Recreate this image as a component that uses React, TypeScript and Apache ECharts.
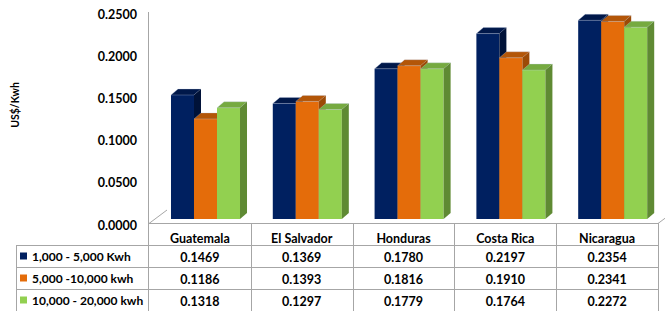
import React, { useEffect, useRef } from "react";
import * as echarts from "echarts";

const categories = ["Guatemala", "El Salvador", "Honduras", "Costa Rica", "Nicaragua"];
const seriesNames = ["1,000 - 5,000 Kwh", "5,000 -10,000 kwh", "10,000 - 20,000 kwh"];
const tier1 = [0.1469, 0.1369, 0.178, 0.2197, 0.2354];
const tier2 = [0.1186, 0.1393, 0.1816, 0.191, 0.2341];
const tier3 = [0.1318, 0.1297, 0.1779, 0.1764, 0.2272];
const seriesValues = [tier1, tier2, tier3];
const yMax = 0.25;
const yStep = 0.05;
const yTitle = "US$/Kwh";

const palette = [
  { front: "#002060", top: "#00184a", side: "#001238" },
  { front: "#e46c0a", top: "#b35608", side: "#9c4a06" },
  { front: "#92d050", top: "#76aa40", side: "#5f8a33" },
];

const FONT = "Lato, 'Liberation Sans', Arial, sans-serif";
const FS = 12.5;
const PLOT_L = 149;
const PLOT_R = 658;
const BAR_TOP = 8;
const BAR_BASE = 219;
const TABLE_TOP = 223;
const ROW_H = 22;
const LEG_L = 16;
const LINE = "#a6a6a6";
const DX = 7;
const DY = 6;
const FLOOR_DX = 18;
const FLOOR_DY = 13;

export default function App() {
  const ref = useRef<HTMLDivElement>(null);
  useEffect(() => {
    if (!ref.current) return;
    const chart = echarts.init(ref.current, null, { renderer: "svg" });
    const colW = (PLOT_R - PLOT_L) / categories.length;
    const rowY = (r: number) => TABLE_TOP + ROW_H * (r + 1);

    const graphics: any[] = [];
    const line = (x1: number, y1: number, x2: number, y2: number) =>
      graphics.push({
        type: "line",
        shape: { x1, y1, x2, y2 },
        style: { stroke: LINE, lineWidth: 1 },
        silent: true,
      });
    // wall / floor
    line(148.5, 12, 148.5, rowY(3));
    line(149, TABLE_TOP + 0.5, 149 + FLOOR_DX, TABLE_TOP - FLOOR_DY);
    line(PLOT_R, TABLE_TOP + 0.5, PLOT_R + FLOOR_DX, TABLE_TOP - FLOOR_DY);
    // table
    line(PLOT_L, TABLE_TOP + 0.5, PLOT_R, TABLE_TOP + 0.5);
    for (let r = 0; r < 3; r++) line(LEG_L, rowY(r) + 0.5, PLOT_R, rowY(r) + 0.5);
    line(LEG_L, rowY(0) + 0.5, PLOT_R, rowY(0) + 0.5);
    line(LEG_L + 0.5, rowY(0), LEG_L + 0.5, rowY(3));
    for (let c = 1; c <= categories.length; c++) {
      const x = Math.round(PLOT_L + c * colW) + 0.5;
      line(x, TABLE_TOP, x, rowY(3));
    }
    const txt = (text: string, x: number, y: number) =>
      graphics.push({
        type: "text",
        x,
        y,
        silent: true,
        style: {
          text,
          align: "center",
          verticalAlign: "middle",
          fontFamily: FONT,
          fontWeight: "bold",
          fontSize: FS,
          fill: "#000",
        },
      });
    categories.forEach((c, i) => {
      const cx = PLOT_L + colW * (i + 0.5);
      txt(c, cx, TABLE_TOP + 15);
      seriesValues.forEach((vals, s) => {
        txt(vals[i].toFixed(4), cx, rowY(s) + 12.5);
      });
    });
    graphics.push({
      type: "text",
      x: 15,
      y: 105,
      rotation: Math.PI / 2,
      silent: true,
      style: {
        text: yTitle,
        align: "center",
        verticalAlign: "middle",
        fontFamily: FONT,
        fontWeight: "bold",
        fontSize: 10.5,
        fill: "#000",
      },
    });

    const makeRender = (s: number) => (params: any, api: any) => {
      const ci = api.value(0);
      const v = api.value(1);
      const top = api.coord([ci, v]);
      const base = api.coord([ci, 0]);
      const band = api.size([1, 0])[0];
      const w = band * 0.226;
      const x0 = top[0] - band / 2 + band * 0.216 + s * w;
      const c = palette[s];
      const yt = top[1];
      const yb = base[1];
      return {
        type: "group",
        children: [
          {
            type: "rect",
            shape: { x: x0, y: yt, width: w, height: yb - yt },
            style: { fill: c.front },
          },
          {
            type: "polygon",
            shape: {
              points: [
                [x0, yt],
                [x0 + DX, yt - DY],
                [x0 + w + DX, yt - DY],
                [x0 + w, yt],
              ],
            },
            style: { fill: c.top, stroke: "rgba(190,205,230,0.5)", lineWidth: 0.6 },
          },
          {
            type: "polygon",
            shape: {
              points: [
                [x0 + w, yt],
                [x0 + w + DX, yt - DY],
                [x0 + w + DX, yb - DY],
                [x0 + w, yb],
              ],
            },
            style: { fill: c.side },
          },
        ],
      };
    };

    chart.setOption({
      animation: false,
      grid: [
        { left: PLOT_L, width: PLOT_R - PLOT_L, top: BAR_TOP, height: BAR_BASE - BAR_TOP },
        { left: 148, width: PLOT_R - PLOT_L, top: 14, height: BAR_BASE - BAR_TOP },
      ],
      xAxis: [
        { type: "category", data: categories, gridIndex: 0, show: false },
        { type: "category", data: categories, gridIndex: 1, show: false },
      ],
      yAxis: [
        { type: "value", gridIndex: 0, min: 0, max: yMax, interval: yStep, show: false },
        {
          type: "value",
          gridIndex: 1,
          min: 0,
          max: yMax,
          interval: yStep,
          axisLine: { show: false },
          axisTick: { show: false },
          splitLine: { show: false },
          axisLabel: {
            margin: 11,
            formatter: (v: number) => v.toFixed(4),
            fontFamily: FONT,
            fontWeight: "bold",
            fontSize: FS,
            color: "#000",
          },
        },
      ],
      legend: seriesNames.map((n, i) => ({
        data: [{ name: n, icon: "rect" }],
        left: 20,
        top: rowY(i) + 5,
        padding: 0,
        itemWidth: 7,
        itemHeight: 7,
        itemGap: 5,
        selectedMode: false,
        textStyle: { fontFamily: FONT, fontWeight: "bold", fontSize: 12, color: "#000", padding: [0, 0, 0, 0] },
      })),
      series: seriesNames.map((n, s) => ({
        type: "custom",
        name: n,
        xAxisIndex: 0,
        yAxisIndex: 0,
        itemStyle: { color: palette[s].front },
        data: seriesValues[s].map((v, i) => [i, v]),
        renderItem: makeRender(s),
        clip: false,
      })),
      graphic: graphics,
    });
    return () => chart.dispose();
  }, []);
  return (
    <div
      ref={ref}
      style={{ position: "fixed", left: 0, top: 0, width: 665, height: 312, background: "#fff" }}
    />
  );
}
